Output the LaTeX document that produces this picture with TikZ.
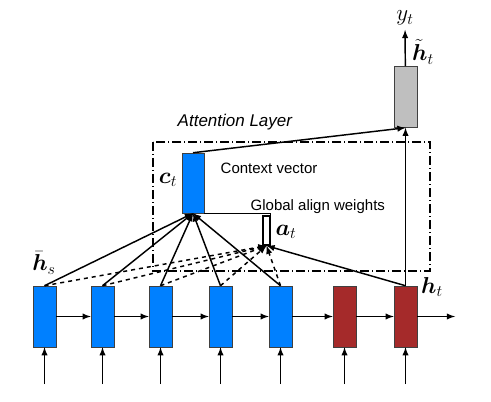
\documentclass[tikz,border=0pt]{standalone}
\usepackage{bm}
\usepackage{fontspec}
\setsansfont{Liberation Sans}
\usetikzlibrary{arrows}
\definecolor{encblue}{RGB}{0,128,255}
\definecolor{decred}{RGB}{165,42,42}
\definecolor{outgray}{RGB}{191,191,191}

\begin{document}
\begin{tikzpicture}[x=0.75pt,y=-0.75pt,
        cell/.style={draw=black!75,minimum width=17.25pt,minimum height=45.75pt,inner sep=0pt},
        conn/.style={line width=1.1pt,-latex},
        lbl/.style={font=\LARGE},
        txt/.style={font=\sffamily\fontsize{11.25}{13}\selectfont,anchor=west}]
                            \useasboundingbox (0,0) rectangle (491,402);

                            % Attention layer frame
                            \draw[line width=1.1pt,dash pattern=on 7pt off 2pt on 1pt off 2pt] (153,142) rectangle (430,271);
                            \node[txt,font=\sffamily\itshape\fontsize{12.75}{15}\selectfont] (attn) at (173,122) {Attention Layer};

                            % Source and target states
                            \node[cell,fill=encblue] (h1) at (44.5,316.5) {};
                            \node[cell,fill=encblue] (h2) at (102.5,316.5) {};
                            \node[cell,fill=encblue] (h3) at (160.5,316.5) {};
                            \node[cell,fill=encblue] (h4) at (220.5,316.5) {};
                            \node[cell,fill=encblue] (h5) at (280.5,316.5) {};
                            \node[cell,fill=decred] (h6) at (344.5,316.5) {};
                            \node[cell,fill=decred] (h7) at (405.5,316.5) {};

                            % Context vector, align weights, attentional state
                            \node[cell,fill=encblue,minimum width=16.5pt,minimum height=45pt] (ct) at (193,183) {};
                            \node[draw=black,line width=1.1pt,fill=white,minimum width=5.25pt,minimum height=21.75pt,inner sep=0pt] (at) at (266.5,230.5) {};
                            \node[cell,fill=outgray] (out) at (405.5,97) {};

                            % Recurrent and input arrows
                            \foreach \i/\j in {1/2,2/3,3/4,4/5,5/6,6/7}
                                \draw[conn] (h\i) -- (h\j);
                            \coordinate (end) at (455,316.5);
                            \draw[conn] (h7) -- (end);
                            \foreach \i/\x in {1/44.5,2/102.5,3/160.5,4/220.5,5/280.5,6/344.5,7/405.5}{
                                \coordinate (in\i) at (\x,384);
                                \draw[conn] (in\i) -- (h\i);
                            }

                            % Attention connections
                            \foreach \i in {1,...,5}{
                                \draw[conn] (h\i.north) -- (ct.south);
                                \draw[conn,dashed] (h\i.north) -- (at.south);
                            }
                            \draw[conn] (h7.north) -- (at.south);
                            \draw[line width=1.1pt] (ct.south east) -| (at.north east);
                            \draw[conn] (ct.north) -- (out.south);
                            \draw[conn] (h7.north) -- (out.south);

                            % Output
                            \node[lbl] (yt) at (405,18) {$y_t$};
                            \draw[conn] (out) -- (yt);

                            % Labels
                            \node[lbl] (hs) at (44,263) {$\bar{\bm h}_s$};
                            \node[lbl] (ctl) at (168,180) {$\bm c_t$};
                            \node[lbl] (atl) at (286,232) {$\bm a_t$};
                            \node[lbl] (htl) at (432,287) {$\bm h_t$};
                            \node[lbl] (htil) at (423,52) {$\tilde{\bm h}_t$};
                            \node[txt] (cv) at (216,168) {Context vector};
                            \node[txt] (gw) at (246,207) {Global align weights};
                      \end{tikzpicture}
\end{document}
